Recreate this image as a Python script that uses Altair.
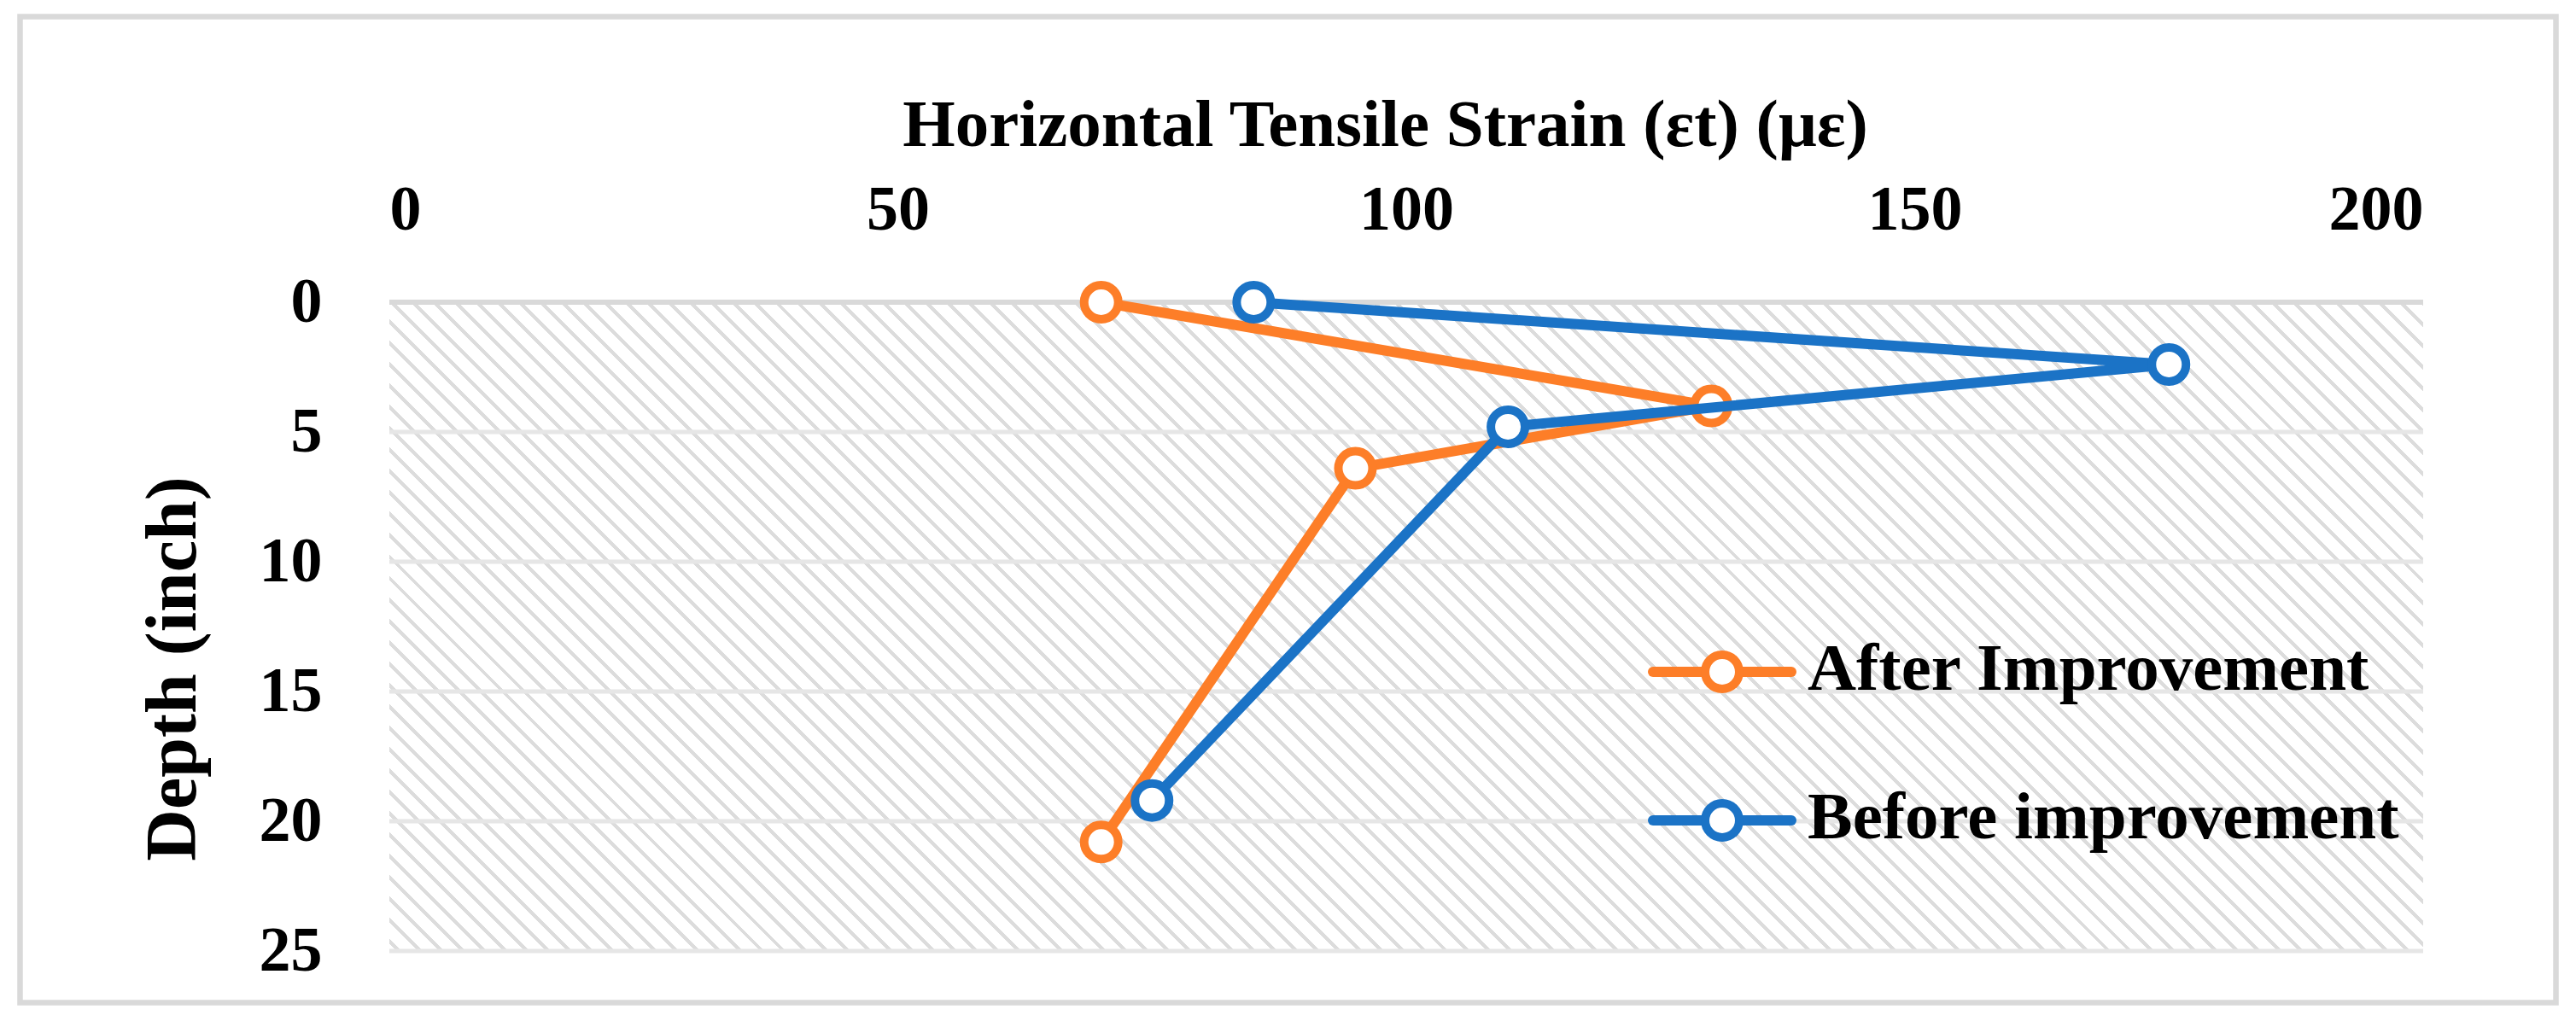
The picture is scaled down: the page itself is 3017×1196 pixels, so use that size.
import altair as alt
import pandas as pd

# ---------------- data ----------------
series_names = ["After Improvement", "Before improvement"]
series_colors = ["#FD7E28", "#1B73C6"]

strain_after = [70, 130, 95, 70]
depth_after = [0.0, 4.0, 6.4, 20.8]
strain_before = [85, 175, 110, 75]
depth_before = [0.0, 2.4, 4.8, 19.2]

x_ticks = [0, 50, 100, 150, 200]
y_ticks = [0, 5, 10, 15, 20, 25]
x_title = "Horizontal Tensile Strain (εt) (με)"
y_title = "Depth (inch)"

# ---------------- layout ----------------
W, H = 2382, 760
FONT = "Liberation Serif"

df = pd.DataFrame({
    "strain": strain_after + strain_before,
    "depth": depth_after + depth_before,
    "series": [series_names[0]] * len(strain_after) + [series_names[1]] * len(strain_before),
    "idx": list(range(len(strain_after))) + list(range(len(strain_before))),
})

bg_df = pd.DataFrame({"strain": [x_ticks[0]], "strain2": [x_ticks[-1]],
                      "depth": [y_ticks[0]], "depth2": [y_ticks[-1]]})
grid_df = pd.DataFrame({"depth": y_ticks[1:]})
top_df = pd.DataFrame({"depth": y_ticks[:1]})

x_scale = alt.Scale(domain=[x_ticks[0], x_ticks[-1]], nice=False, zero=False)
y_scale = alt.Scale(domain=[y_ticks[0], y_ticks[-1]], nice=False, zero=False, reverse=True)

x_axis = alt.Axis(orient="top", values=x_ticks, grid=False, domain=False, ticks=False, tickSize=0,
                  labelFont=FONT, labelFontSize=74, labelFontWeight="bold", labelColor="#000000",
                  labelBaseline="alphabetic", labelPadding=86,
                  title=x_title, titleFont=FONT, titleFontSize=79, titleFontWeight="bold",
                  titleColor="#000000", titleX=1166, titleY=-184, titleAlign="center",
                  titleBaseline="alphabetic")
y_axis = alt.Axis(orient="left", values=y_ticks, grid=False, domain=False, ticks=False, tickSize=0,
                  labelFont=FONT, labelFontSize=74, labelFontWeight="bold", labelColor="#000000",
                  labelAlign="right", labelBaseline="middle", labelPadding=79,
                  title=y_title, titleFont=FONT, titleFontSize=84, titleFontWeight="bold",
                  titleColor="#000000", titleX=-228, titleY=429, titleAlign="center",
                  titleBaseline="alphabetic", titleAngle=270)


def X(field="strain"):
    return alt.X(f"{field}:Q", scale=x_scale, axis=x_axis)


def Y(field="depth"):
    return alt.Y(f"{field}:Q", scale=y_scale, axis=y_axis)


# ---------------- diagonal hatch fill of the plot area (linear gradient) ----------------
span = (W + H) / 2 ** 0.5
period, stripe = 17.7, 4.2
gray, white = "#dcdcdc", "#ffffff"
stops = [{"offset": 0.0, "color": white}]
k = 0
while True:
    a = (k * period + 6) / span
    b = (k * period + 6 + stripe) / span
    if a >= 1:
        break
    b = min(b, 1.0)
    stops += [{"offset": a, "color": white}, {"offset": a, "color": gray},
              {"offset": b, "color": gray}, {"offset": b, "color": white}]
    k += 1
stops.append({"offset": 1.0, "color": white})
s = (1 / H + 1 / W) / (1 / H ** 2 + 1 / W ** 2)
hatch = {"gradient": "linear", "x1": 0, "y1": 1, "x2": s / H, "y2": 1 - s / W, "stops": stops}

background = alt.Chart(bg_df).mark_rect(fill=hatch, strokeWidth=0).encode(
    x=X(), x2="strain2:Q", y=Y(), y2="depth2:Q")

gridlines = alt.Chart(grid_df).mark_rule(color="#e6e6e6", strokeWidth=5).encode(y=Y())
topline = alt.Chart(top_df).mark_rule(color="#d9d9d9", strokeWidth=6).encode(y=Y())

layers = [background, gridlines, topline]

for name, col in zip(series_names, series_colors):
    base = alt.Chart(df).transform_filter(alt.datum.series == name)
    line = base.mark_line(color=col, strokeWidth=12, strokeCap="round", strokeJoin="round").encode(
        x=X(), y=Y(), order="idx:Q")
    pts = base.mark_point(shape="circle", size=1600, fill="#ffffff", fillOpacity=1, stroke=col,
                          strokeWidth=10, opacity=1).encode(x=X(), y=Y())
    layers += [line, pts]

# ---------------- legend (inside plot, right) ----------------
legend_y = [433, 607]
for name, col, ly in zip(series_names, series_colors, legend_y):
    ldf = pd.DataFrame({"label": [name]})
    lrule = alt.Chart(ldf).mark_rule(color=col, strokeWidth=12, strokeCap="round").encode(
        x=alt.value(1480), x2=alt.value(1642), y=alt.value(ly))
    lpt = alt.Chart(ldf).mark_point(shape="circle", size=1600, fill="#ffffff", fillOpacity=1,
                                    stroke=col, strokeWidth=10, opacity=1).encode(
        x=alt.value(1561), y=alt.value(ly))
    ltxt = alt.Chart(ldf).mark_text(align="left", baseline="alphabetic", font=FONT, fontSize=79,
                                    fontWeight="bold", color="#000000").encode(
        x=alt.value(1661), y=alt.value(ly + 21), text="label:N")
    layers += [lrule, lpt, ltxt]

# ---------------- outer frame ----------------
frame = alt.Chart(pd.DataFrame({"f": [1]})).mark_rect(filled=False, stroke="#d9d9d9", strokeWidth=6.5).encode(
    x=alt.value(-432.5), x2=alt.value(2537.5), y=alt.value(-334.5), y2=alt.value(820.5))
layers.append(frame)

chart = alt.layer(*layers).properties(
    width=W, height=H,
    padding={"left": 448, "top": 346, "right": 165, "bottom": 66},
    autosize=alt.AutoSizeParams(type="none"),
    background="#ffffff",
).configure_view(strokeWidth=0)

chart.save("out.html", embed_options={"renderer": "svg", "actions": False})
